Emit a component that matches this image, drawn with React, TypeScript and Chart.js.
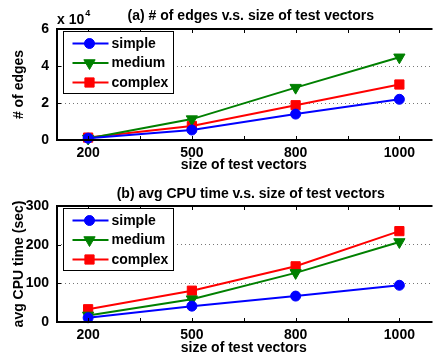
import React, { useEffect, useRef } from 'react';
import { Chart, registerables } from 'chart.js';
import { drawPoint } from 'chart.js/helpers';

Chart.register(...registerables);

const categories = ['200', '500', '800', '1000'];
const seriesNames = ['simple', 'medium', 'complex'];
const seriesColors = ['#0000ff', '#008000', '#ff0000'];

const edgesSimple = [1000, 5400, 14000, 22000];
const edgesMedium = [800, 11300, 28300, 44700];
const edgesComplex = [1300, 7600, 18800, 30000];

const cpuSimple = [11, 41, 67, 95];
const cpuMedium = [17, 59, 127, 207];
const cpuComplex = [33, 81, 144, 235];

const edgesTickStep = 20000;
const edgesMax = 60000;
const cpuTickStep = 100;
const cpuMax = 300;

const FONT = '"Liberation Sans", Arial, Helvetica, sans-serif';

const pointStyles = [
  { pointStyle: 'circle', radius: 5, rotation: 0 },
  { pointStyle: 'triangle', radius: 6.5, rotation: 180 },
  { pointStyle: 'rect', radius: 6.5, rotation: 0 },
];

function makePlugin(exponent: boolean, legendDy: number) {
  return {
    id: 'matlabBox',
    afterLayout(chart: any) {
      const tb = chart.titleBlock;
      if (tb) {
        tb.left += 7;
        tb.right += 7;
      }
    },
    afterDraw(chart: any) {
      const { ctx, chartArea } = chart;
      const { left, right, top, bottom } = chartArea;
      const xs = chart.scales.x;
      const ys = chart.scales.y;
      ctx.save();
      // inward ticks
      ctx.strokeStyle = '#000';
      ctx.lineWidth = 1;
      ctx.beginPath();
      xs.ticks.forEach((t: any) => {
        const px = Math.round(xs.getPixelForValue(t.value)) + 0.5;
        ctx.moveTo(px, bottom);
        ctx.lineTo(px, bottom - 4);
        ctx.moveTo(px, top);
        ctx.lineTo(px, top + 4);
      });
      ys.ticks.forEach((t: any) => {
        const py = Math.round(ys.getPixelForValue(t.value)) + 0.5;
        ctx.moveTo(left, py);
        ctx.lineTo(left + 4, py);
      });
      ctx.stroke();
      // box (right edge clipped by the window)
      ctx.lineWidth = 2;
      ctx.beginPath();
      ctx.moveTo(right + 2, top);
      ctx.lineTo(left, top);
      ctx.lineTo(left, bottom);
      ctx.lineTo(right + 2, bottom);
      ctx.stroke();

      // legend
      const lx = left + 6.5;
      const ly = top + legendDy + 0.5;
      const lw = 110;
      const lh = 62;
      ctx.fillStyle = '#fff';
      ctx.fillRect(lx, ly, lw, lh);
      ctx.strokeStyle = '#000';
      ctx.lineWidth = 1;
      ctx.strokeRect(lx, ly, lw, lh);
      ctx.font = 'bold 14px ' + FONT;
      ctx.textBaseline = 'middle';
      ctx.textAlign = 'left';
      chart.data.datasets.forEach((ds: any, i: number) => {
        const y = ly + 12 + i * 19.5;
        ctx.strokeStyle = ds.borderColor;
        ctx.lineWidth = 2;
        ctx.beginPath();
        ctx.moveTo(lx + 9, y);
        ctx.lineTo(lx + 45, y);
        ctx.stroke();
        ctx.fillStyle = ds.borderColor;
        ctx.strokeStyle = ds.borderColor;
        ctx.lineWidth = 1;
        drawPoint(ctx, { pointStyle: ds.pointStyle, rotation: ds.pointRotation, radius: ds.pointRadius, borderWidth: 1 } as any, lx + 26, y);
        ctx.fillStyle = '#000';
        ctx.fillText(ds.label, lx + 48, y + 0.5);
      });

      if (exponent) {
        ctx.fillStyle = '#000';
        ctx.textBaseline = 'alphabetic';
        ctx.font = 'bold 14px ' + FONT;
        ctx.fillText('x 10', left, top - 5);
        const w = ctx.measureText('x 10').width;
        ctx.font = 'bold 9px ' + FONT;
        ctx.fillText('4', left + w + 1, top - 13);
      }
      ctx.restore();
    },
  };
}

function makeConfig(
  title: string,
  yTitle: string,
  series: number[][],
  yMax: number,
  yStep: number,
  yFmt: (v: number) => string,
  titlePad: { top: number; bottom: number },
  xHeight: number,
  xTitleBottom: number,
  exponent: boolean,
  legendDy: number
): any {
  return {
    type: 'line',
    data: {
      datasets: series.map((vals, i) => ({
        label: seriesNames[i],
        data: vals.map((v, j) => ({ x: j + 1, y: v })),
        borderColor: seriesColors[i],
        backgroundColor: seriesColors[i],
        pointBackgroundColor: seriesColors[i],
        pointBorderColor: seriesColors[i],
        pointBorderWidth: 1,
        borderWidth: 2,
        pointStyle: pointStyles[i].pointStyle,
        pointRadius: pointStyles[i].radius,
        pointRotation: pointStyles[i].rotation,
        tension: 0,
        clip: false,
      })),
    },
    options: {
      responsive: false,
      animation: false,
      devicePixelRatio: 1,
      layout: { padding: 0 },
      plugins: {
        legend: { display: false },
        tooltip: { enabled: false },
        title: {
          display: true,
          text: title,
          fullSize: false,
          color: '#000',
          font: { family: FONT, size: 14, weight: 'bold', lineHeight: 1.2 },
          padding: titlePad,
        },
      },
      scales: {
        x: {
          type: 'linear',
          min: 0.7,
          max: 4.3,
          grid: { display: false, drawTicks: false },
          border: { display: false },
          ticks: {
            stepSize: 0.5,
            includeBounds: false,
            autoSkip: false,
            maxRotation: 0,
            padding: 4.5,
            color: '#000',
            font: { family: FONT, size: 14, weight: 'bold', lineHeight: 1.2 },
            callback: (v: number) => (Number.isInteger(v) ? categories[v - 1] ?? '' : ''),
          },
          title: {
            display: true,
            text: 'size of test vectors',
            color: '#000',
            font: { family: FONT, size: 14, weight: 'bold', lineHeight: 1.2 },
            padding: { top: 0, bottom: xTitleBottom },
          },
          afterFit: (s: any) => {
            s.height = xHeight;
          },
        },
        y: {
          min: 0,
          max: yMax,
          grid: { display: true, drawTicks: false, color: '#777', lineWidth: 1 },
          border: { display: false, dash: [1, 3] },
          ticks: {
            stepSize: yStep,
            padding: 8,
            color: '#000',
            font: { family: FONT, size: 14, weight: 'bold', lineHeight: 1.2 },
            callback: (v: number) => yFmt(v),
          },
          title: {
            display: true,
            text: yTitle,
            color: '#000',
            font: { family: FONT, size: 14, weight: 'bold', lineHeight: 1.2 },
            padding: { top: 11, bottom: 0 },
          },
          afterFit: (s: any) => {
            s.width = 57;
          },
        },
      },
    },
    plugins: [makePlugin(exponent, legendDy)],
  };
}

export default function App() {
  const r1 = useRef<HTMLCanvasElement>(null);
  const r2 = useRef<HTMLCanvasElement>(null);

  useEffect(() => {
    const c1 = new Chart(
      r1.current as HTMLCanvasElement,
      makeConfig(
        '(a) # of edges v.s. size of test vectors',
        '# of edges',
        [edgesSimple, edgesMedium, edgesComplex],
        edgesMax,
        edgesTickStep,
        (v) => String(v / 10000),
        { top: 7.6, bottom: 4.6 },
        40,
        6,
        true,
        2
      )
    );
    const c2 = new Chart(
      r2.current as HTMLCanvasElement,
      makeConfig(
        '(b) avg CPU time v.s. size of test vectors',
        'avg CPU time (sec)',
        [cpuSimple, cpuMedium, cpuComplex],
        cpuMax,
        cpuTickStep,
        (v) => String(v),
        { top: 5.6, bottom: 3.6 },
        38,
        3,
        false,
        2
      )
    );
    return () => {
      c1.destroy();
      c2.destroy();
    };
  }, []);

  return (
    <div style={{ position: 'fixed', left: 0, top: 0, width: 438, height: 360, background: '#fff', overflow: 'hidden' }}>
      <canvas ref={r1} width={438} height={180} style={{ display: 'block' }} />
      <canvas ref={r2} width={438} height={180} style={{ display: 'block' }} />
    </div>
  );
}
